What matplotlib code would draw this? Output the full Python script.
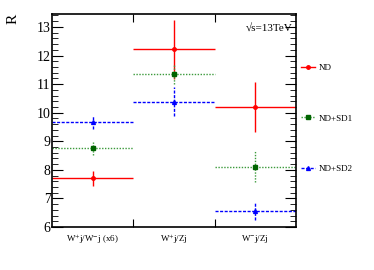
import matplotlib
matplotlib.use('Agg')
import matplotlib.pyplot as plt
from matplotlib.ticker import MultipleLocator, FixedLocator

plt.rcParams['font.family'] = ['Liberation Serif', 'DejaVu Serif']
plt.rcParams['mathtext.fontset'] = 'stix'

# ratios per channel
categories = ['W$^{+}$j/W$^{-}$j (x6)', 'W$^{+}$j/Zj', 'W$^{-}$j/Zj']
nd = [7.70, 12.22, 10.21]
nd_err = [0.27, 1.03, 0.87]
sd1 = [8.75, 11.37, 8.11]
sd1_err = [0.23, 0.35, 0.55]
sd2 = [9.66, 10.39, 6.56]
sd2_err = [0.22, 0.52, 0.30]

xpos = list(range(len(categories)))
half = [0.5] * len(categories)

fig = plt.figure(figsize=(3.74, 2.70), dpi=100)
ax = fig.add_axes([0.139, 0.159, 0.652, 0.789])

series = [
    (nd, nd_err, 'ND', 'red', 'red', 'o', '-', 2.5),
    (sd1, sd1_err, 'ND+SD1', '#3c9a3c', '#006400', 's', (0, (1, 1.1)), 3.0),
    (sd2, sd2_err, 'ND+SD2', 'blue', 'blue', '^', (0, (2.2, 1.1)), 2.8),
]
handles = []
for vals, errs, name, col, mcol, mk, ls, ms in series:
    eb = ax.errorbar(xpos, vals, xerr=half, yerr=errs, fmt=mk, color=col,
                     mfc=mcol, mec=mcol, ms=ms, elinewidth=1.0, capsize=0)
    eb[2][0].set_linestyle(ls)
    eb[2][1].set_linestyle(ls)
    h, = ax.plot([], [], color=col, ls=ls, marker=mk, ms=ms, lw=1.0,
                 mfc=mcol, mec=mcol)
    handles.append(h)

ax.set_xlim(-0.5, 2.5)
ax.set_ylim(6, 13.45)

ax.xaxis.set_major_locator(FixedLocator([0.5, 1.5]))
ax.xaxis.set_minor_locator(FixedLocator(xpos))
ax.set_xticklabels([], minor=False)
ax.set_xticklabels(categories, minor=True, fontsize=6.5)
ax.tick_params(axis='x', which='major', direction='in', length=6, top=True, bottom=True)
ax.tick_params(axis='x', which='minor', length=0, pad=4)

ax.yaxis.set_major_locator(MultipleLocator(1))
ax.yaxis.set_minor_locator(MultipleLocator(0.2))
ax.tick_params(axis='y', which='major', direction='in', length=8, left=True, right=True, labelsize=10, pad=1)
ax.tick_params(axis='y', which='minor', direction='in', length=4, left=True, right=True)
for s in ax.spines.values():
    s.set_linewidth(1.2)

ax.text(0.985, 0.955, '\u221as=13TeV', transform=ax.transAxes,
        ha='right', va='top', fontsize=8)

fig.text(0.035, 0.93, 'R', rotation=90, fontsize=11, ha='center', va='center')

fig.legend(handles, ['ND', 'ND+SD1', 'ND+SD2'], loc='upper left',
           bbox_to_anchor=(0.783, 0.795), frameon=False, fontsize=6.5,
           handlelength=1.6, handletextpad=0.4, labelspacing=4.7,
           markerscale=1.0)

fig.savefig('out.png', dpi=100)
